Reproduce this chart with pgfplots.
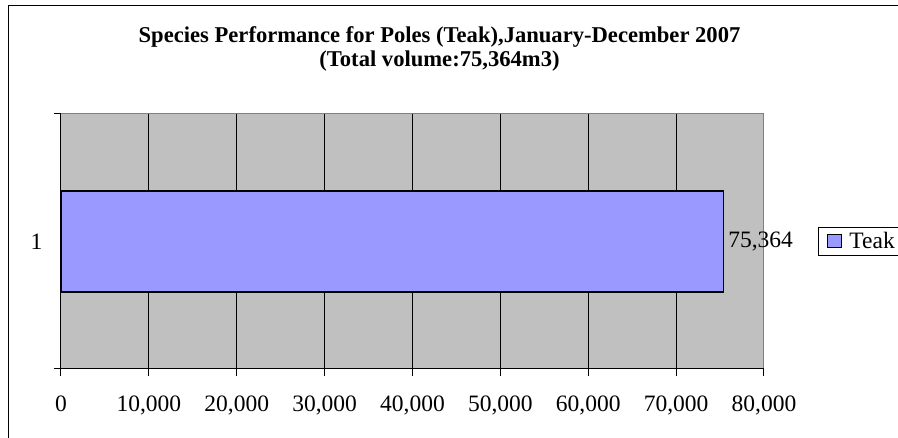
\documentclass[border=0pt]{standalone}
\usepackage{fontspec}
\setmainfont{Liberation Serif}
\usepackage{pgfplots}
\pgfplotsset{compat=1.18}
\definecolor{BarBlue}{HTML}{9999FF}
\definecolor{PlotGray}{HTML}{C0C0C0}
\definecolor{EdgeGray}{HTML}{808080}

\begin{document}
\begin{tikzpicture}
  \useasboundingbox (0pt,0pt) rectangle (898pt,438pt);
  % outer chart frame (runs past the right and bottom edges)
  \draw[black, line width=1pt] (8pt,-20pt) rectangle (920pt,432pt);
  \node[align=center, font=\fontsize{22.6}{24}\selectfont\bfseries]
    at (439.5pt,389pt)
    {Species Performance for Poles (Teak),January-December 2007\\(Total volume:75,364m3)};
  \begin{axis}[
    at={(61pt,69pt)}, anchor=south west,
    scale only axis,
    width=703pt, height=255pt,
    xbar,
    bar width=101pt,
    xmin=0, xmax=80000,
    ymin=0.5, ymax=1.5,
    xtick={0,10000,...,80000},
    scaled x ticks=false,
    /pgf/number format/.cd, fixed, precision=0, 1000 sep={,}, assume math mode=true,
    /pgfplots/.cd,
    ytick={0.5,1.5}, yticklabels={,},
    extra y ticks={1}, extra y tick labels={1},
    extra y tick style={major tick length=0pt},
    extra x ticks={10000,20000,...,70000}, extra x tick labels={},
    extra x tick style={xmajorgrids=true, major tick length=0pt},
    grid style={black, line width=0.9pt},
    axis x line*=bottom, axis y line*=left,
    axis line style={black, line width=1pt},
    axis background/.style={fill=PlotGray, draw=EdgeGray, line width=1pt},
    tick align=outside, major tick length=7pt,
    tick style={black, line width=1pt},
    tick label style={font=\fontsize{23.5}{26}\selectfont},
    xticklabel style={yshift=-16pt},
    yticklabel style={xshift=-15pt},
    nodes near coords,
    nodes near coords style={font=\fontsize{23.5}{26}\selectfont, /pgf/number format/1000 sep={,}, anchor=west, xshift=1pt},
    legend style={at={(1,0.5)}, anchor=west, xshift=54pt, draw=black, line width=0.8pt,
      fill=white, font=\fontsize{23.5}{26}\selectfont, inner xsep=9pt, inner ysep=3pt},
    legend cell align=left,
    legend image code/.code={\draw[fill=BarBlue, draw=black, line width=1pt] (0pt,-6pt) rectangle (14pt,7pt);},
  ]
    \addplot[fill=BarBlue, draw=black, line width=1.5pt] coordinates {(75364,1)};
    \addlegendentry{\hspace{5pt}Teak}
  \end{axis}
\end{tikzpicture}
\end{document}
